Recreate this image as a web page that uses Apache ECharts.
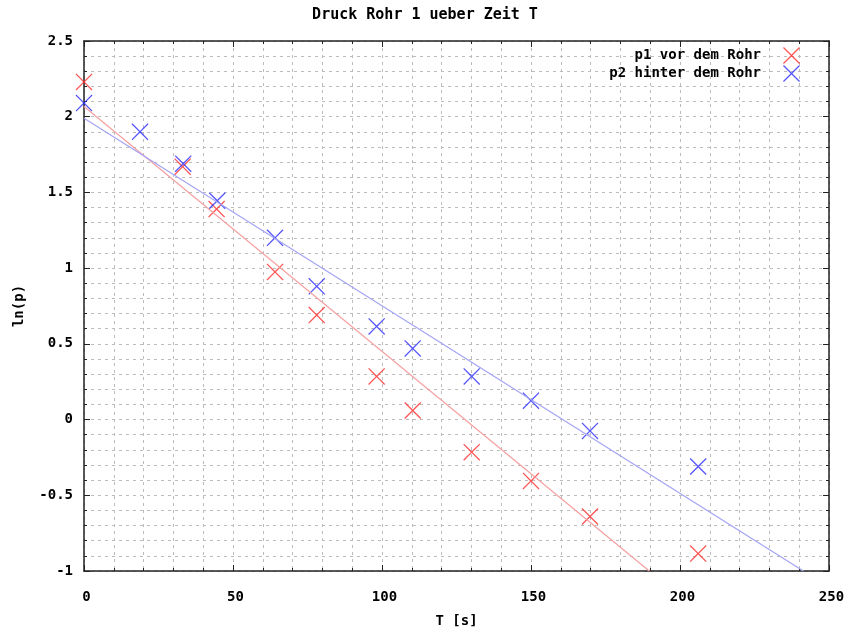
<!DOCTYPE html>
<html>
<head>
<meta charset="utf-8">
<script src="https://cdn.jsdelivr.net/npm/echarts@6/dist/echarts.min.js"></script>
<style>
  html, body { margin: 0; padding: 0; background: #fff; }
  #chart { width: 850px; height: 633px; }
</style>
</head>
<body>
<div id="chart"></div>
<script>
const t1 = [0, 33.1, 44.5, 64.1, 78.1, 98.2, 110.3, 130.1, 150, 169.8, 206.1]
const lnp1 = [2.23, 1.67, 1.39, 0.975, 0.69, 0.285, 0.06, -0.215, -0.405, -0.64, -0.885]
const t2 = [0, 18.8, 33.3, 44.7, 64.1, 78.1, 98.2, 110.3, 130.1, 150, 169.8, 206.1]
const lnp2 = [2.09, 1.9, 1.69, 1.445, 1.2, 0.88, 0.615, 0.47, 0.285, 0.125, -0.075, -0.31]
// fit geraden (anfang / ende)
const fitT1 = [0, 189.7]
const fitP1 = [2.068, -1]
const fitT2 = [0, 241.4]
const fitP2 = [1.99, -1]

const xTicks = [0, 50, 100, 150, 200, 250]
const yTicks = [-1, -0.5, 0, 0.5, 1, 1.5, 2, 2.5]

const font = 'DejaVu Sans Mono'
const crossIcon = 'path://M0,1.3L1.3,0L12,10.7L22.7,0L24,1.3L13.3,12L24,22.7L22.7,24L12,13.3L1.3,24L0,22.7L10.7,12Z'

const zip = (a, b) => a.map((v, i) => [v, b[i]])

const gridLine = { show: true, lineStyle: { color: '#bcbcbc', type: [3, 4], width: 1 } }

function makeX(pos, main) {
  return {
    type: 'value',
    position: pos,
    min: xTicks[0],
    max: xTicks[xTicks.length - 1],
    interval: 50,
    name: main ? 'T [s]' : '',
    nameLocation: 'middle',
    nameGap: 43,
    nameTextStyle: { fontFamily: font, fontWeight: 'bold', fontSize: 14, color: '#000' },
    axisLine: { show: true, onZero: false, lineStyle: { color: '#222', width: 1.5 } },
    axisTick: { show: true, inside: true, length: 6, lineStyle: { color: '#222' } },
    minorTick: { show: true, splitNumber: 5, length: 3, lineStyle: { color: '#222' } },
    axisLabel: {
      show: main, margin: 19, fontFamily: font, fontWeight: 'bold', fontSize: 14, color: '#000',
      padding: [0, 0, 0, 5]
    },
    splitLine: main ? gridLine : { show: false },
    minorSplitLine: main ? gridLine : { show: false }
  }
}

function makeY(pos, main) {
  return {
    type: 'value',
    position: pos,
    min: yTicks[0],
    max: yTicks[yTicks.length - 1],
    interval: 0.5,
    name: main ? 'ln(p)' : '',
    nameLocation: 'middle',
    nameGap: 58,
    nameTextStyle: { fontFamily: font, fontWeight: 'bold', fontSize: 14, color: '#000' },
    axisLine: { show: true, onZero: false, lineStyle: { color: '#222', width: 1.5 } },
    axisTick: { show: true, inside: true, length: 6, lineStyle: { color: '#222' } },
    minorTick: { show: true, splitNumber: 5, length: 3, lineStyle: { color: '#222' } },
    axisLabel: {
      show: main, margin: 11, fontFamily: font, fontWeight: 'bold', fontSize: 14, color: '#000',
      padding: [3, 0, 0, 0]
    },
    splitLine: main ? gridLine : { show: false },
    minorSplitLine: main ? gridLine : { show: false }
  }
}

function makeLegend(name, top) {
  return {
    data: [{ name: name, icon: crossIcon }],
    right: 50,
    top: top,
    padding: 0,
    align: 'right',
    itemWidth: 17,
    itemHeight: 17,
    selectedMode: false,
    textStyle: { fontFamily: font, fontWeight: 'bold', fontSize: 14, color: '#000', padding: [0, 17, 0, 0] }
  }
}

const chart = echarts.init(document.getElementById('chart'))
chart.setOption({
  animation: false,
  backgroundColor: '#fff',
  title: {
    text: 'Druck Rohr 1 ueber Zeit T',
    left: 'center',
    top: 8,
    padding: 0,
    textStyle: { fontFamily: font, fontWeight: 'bold', fontSize: 15, color: '#000' }
  },
  legend: [makeLegend('p1 vor dem Rohr', 47), makeLegend('p2 hinter dem Rohr', 65)],
  grid: { left: 84, right: 21, top: 41, bottom: 55 },
  xAxis: [makeX('bottom', true), makeX('top', false)],
  yAxis: [makeY('left', true), makeY('right', false)],
  series: [
    {
      name: 'fit1',
      type: 'line',
      data: zip(fitT1, fitP1),
      showSymbol: false,
      silent: true,
      lineStyle: { color: '#f5a0a0', width: 1.2 }
    },
    {
      name: 'fit2',
      type: 'line',
      data: zip(fitT2, fitP2),
      showSymbol: false,
      silent: true,
      lineStyle: { color: '#a4a4f6', width: 1.2 }
    },
    {
      name: 'p1 vor dem Rohr',
      type: 'scatter',
      data: zip(t1, lnp1),
      symbol: crossIcon,
      symbolSize: 17,
      itemStyle: { color: '#ff2a2a' }
    },
    {
      name: 'p2 hinter dem Rohr',
      type: 'scatter',
      data: zip(t2, lnp2),
      symbol: crossIcon,
      symbolSize: 17,
      itemStyle: { color: '#2a2aff' }
    }
  ]
})
</script>
</body>
</html>
